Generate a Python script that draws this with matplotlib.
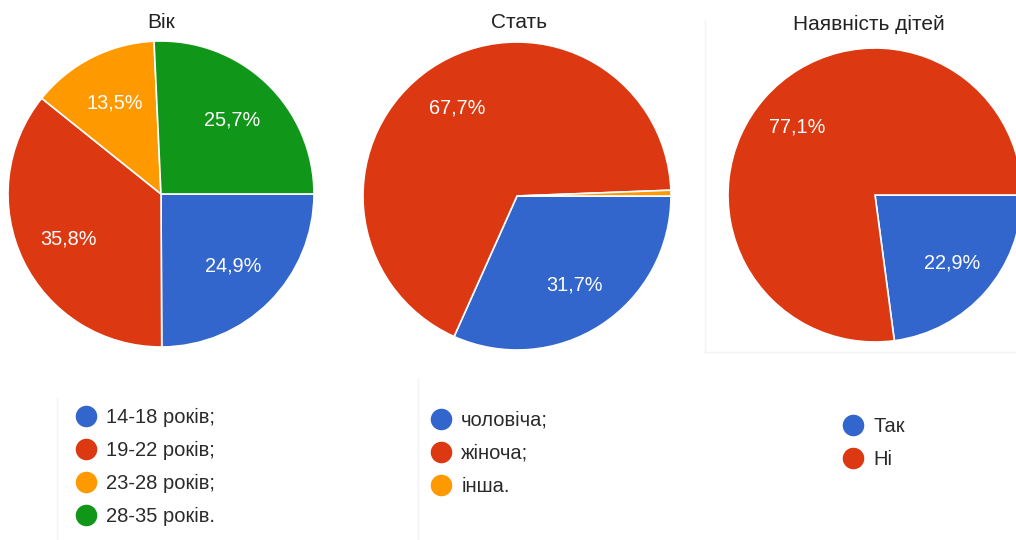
import matplotlib.pyplot as plt
from matplotlib.lines import Line2D

plt.rcParams['font.family'] = ['Liberation Sans', 'DejaVu Sans']

# data
age_labels = ["14-18 років;", "19-22 років;", "23-28 років;", "28-35 років."]
age_values = [24.9, 35.8, 13.5, 25.7]
sex_labels = ["чоловіча;", "жіноча;", "інша."]
sex_values = [31.7, 67.7, 0.6]
kids_labels = ["Так", "Ні"]
kids_values = [22.9, 77.1]
titles = ["Вік", "Стать", "Наявність дітей"]

blue, red, orange, green = "#3366cc", "#dc3912", "#ff9900", "#109618"
age_colors = [blue, red, orange, green]
sex_colors = [blue, red, orange]
kids_colors = [blue, red]

W, H = 1016, 540
fig = plt.figure(figsize=(W / 100, H / 100), dpi=100)


def px_axes(cx, cy, r):
    # axes box in pixel units, y measured from top
    return fig.add_axes([(cx - r) / W, (H - cy - r) / H, 2 * r / W, 2 * r / H])


def pct(p):
    if p < 2:
        return ""
    return f"{p:.1f}%".replace(".", ",")


pies = [
    (161, 194, 153, age_values, age_colors, 0.67),
    (517, 196, 154, sex_values, sex_colors, 0.69),
    (875, 195, 147, kids_values, kids_colors, 0.70),
]
for cx, cy, r, vals, cols, pd in pies:
    ax = px_axes(cx, cy, r)
    wedges, texts, autos = ax.pie(vals, colors=cols, startangle=0, counterclock=False,
                                  autopct=pct, pctdistance=pd,
                                  wedgeprops=dict(edgecolor="white", linewidth=1.2))
    for t in autos:
        t.set_color("white")
        t.set_fontsize(14.3)
    ax.set_xlim(-1, 1)
    ax.set_ylim(-1, 1)
    ax.set_aspect("equal")
    ax.axis("off")

# titles
fig.text(161 / W, 1 - 23 / H, titles[0], ha="center", va="center", fontsize=15, color="#222222")
fig.text(519 / W, 1 - 22 / H, titles[1], ha="center", va="center", fontsize=15, color="#222222")
fig.text(869 / W, 1 - 24 / H, titles[2], ha="center", va="center", fontsize=15, color="#222222")


def legend(labels, cols, x, y):
    handles = [Line2D([], [], marker="o", linestyle="", markersize=14.5,
                      markerfacecolor=c, markeredgecolor=c) for c in cols]
    fig.legend(handles, labels, loc="upper left", bbox_to_anchor=(x / W, 1 - y / H),
               frameon=False, fontsize=14.5, labelspacing=0.69, handletextpad=0.5,
               handlelength=1.0, borderpad=0, borderaxespad=0, labelcolor="#2a2a2a")


legend(age_labels, age_colors, 76, 408)
legend(sex_labels, sex_colors, 431, 411)
legend(kids_labels, kids_colors, 843, 417)

# faint panel borders
for xs, ys in [((418, 418), (378, 540)), ((705, 705), (20, 352)), ((705, 1016), (352, 352)),
               ((57, 57), (398, 540))]:
    fig.add_artist(Line2D([xs[0] / W, xs[1] / W], [1 - ys[0] / H, 1 - ys[1] / H],
                          color="#f4f4f4", linewidth=1))

fig.savefig("out.png", dpi=100, facecolor="white")
